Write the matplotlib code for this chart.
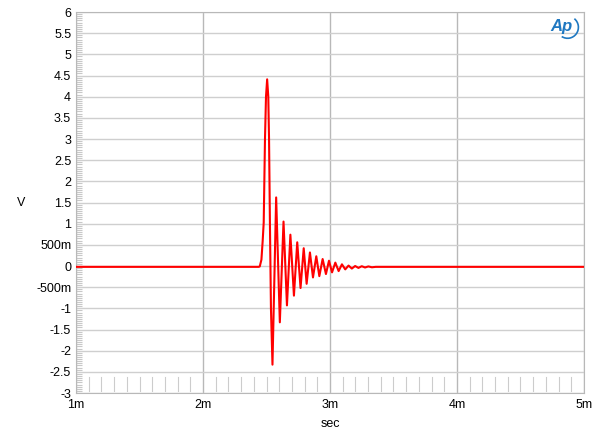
import matplotlib
matplotlib.use("Agg")
import matplotlib.pyplot as plt
from matplotlib.patches import Arc
from matplotlib.ticker import FuncFormatter, MultipleLocator

plt.rcParams["font.family"] = ["Liberation Sans", "DejaVu Sans"]

# impulse response: time in ms, level in V
time_ms = [
    1.0, 2.439, 2.447, 2.460, 2.470, 2.478, 2.488, 2.496, 2.505, 2.514, 2.520,
    2.527, 2.535,
    2.547, 2.576, 2.605, 2.634, 2.661, 2.688, 2.716, 2.742, 2.768, 2.793,
    2.816, 2.842, 2.866, 2.892, 2.916, 2.942, 2.968, 2.992, 3.016, 3.042,
    3.068, 3.094, 3.120, 3.146, 3.172, 3.198, 3.224, 3.250, 3.276, 3.302,
    3.330, 3.360, 5.0,
]
volts = [
    -0.02, -0.02, -0.01, 0.15, 0.6, 1.03, 3.0, 4.0, 4.41, 4.0, 3.0,
    1.0, -1.0,
    -2.33, 1.62, -1.33, 1.05, -0.93, 0.74, -0.70, 0.56, -0.52, 0.42,
    -0.42, 0.32, -0.27, 0.23, -0.24, 0.165, -0.19, 0.125, -0.15, 0.08,
    -0.12, 0.04, -0.08, 0.01, -0.06, 0.0, -0.045, -0.005, -0.035, -0.01,
    -0.03, -0.02, -0.02,
]

x_ticks = [1, 2, 3, 4, 5]
y_min, y_max = -3, 6


def fmt_v(v, pos):
    if abs(v) < 1e-9:
        return "0"
    if abs(v) < 1:
        return f"{v * 1000:.0f}m"
    return f"{v:g}"


fig = plt.figure(figsize=(6, 4.4), dpi=100)
ax = fig.add_axes([0.1267, 0.1068, 0.8466, 0.8659])

ax.plot(time_ms, volts, color="#ff0000", lw=1.5, zorder=3)

ax.set_xlim(1, 5)
ax.set_ylim(y_min, y_max)
ax.set_xticks(x_ticks)
ax.xaxis.set_major_formatter(FuncFormatter(lambda v, p: f"{v:g}m"))
ax.yaxis.set_major_locator(MultipleLocator(0.5))
ax.yaxis.set_minor_locator(MultipleLocator(0.05))
ax.yaxis.set_major_formatter(FuncFormatter(fmt_v))

ax.grid(axis="y", which="major", color="#cfcfcf", lw=1)
ax.grid(axis="x", which="major", color="#b8b8b8", lw=1)
for s in ax.spines.values():
    s.set_color("#b8b8b8")

ax.tick_params(axis="both", which="major", length=0, labelsize=9, colors="black")
ax.tick_params(axis="x", pad=4)
ax.tick_params(axis="y", which="minor", direction="in", length=4, color="#c8c8c8", width=0.8)

# short vertical marks along the bottom every 0.1 ms
for i in range(40):
    t = 1 + i * 0.1
    if i % 10 == 0:
        continue
    ax.plot([t, t], [-2.95, -2.62], color="#cccccc", lw=0.8, zorder=1)

ax.set_xlabel("sec", fontsize=9, labelpad=5)
fig.text(0.035, 0.538, "V", fontsize=9, ha="center", va="center")

# Ap logo
fig.text(0.936, 0.940, "Ap", fontsize=12, color="#1f78c1", style="italic",
         fontweight="bold", ha="center", va="center")
fig.add_artist(Arc((0.946, 0.938), 0.036, 0.050, theta1=-115, theta2=60,
                   transform=fig.transFigure, color="#1f78c1", lw=1.2))

fig.savefig("out.png", dpi=100, facecolor="white")
